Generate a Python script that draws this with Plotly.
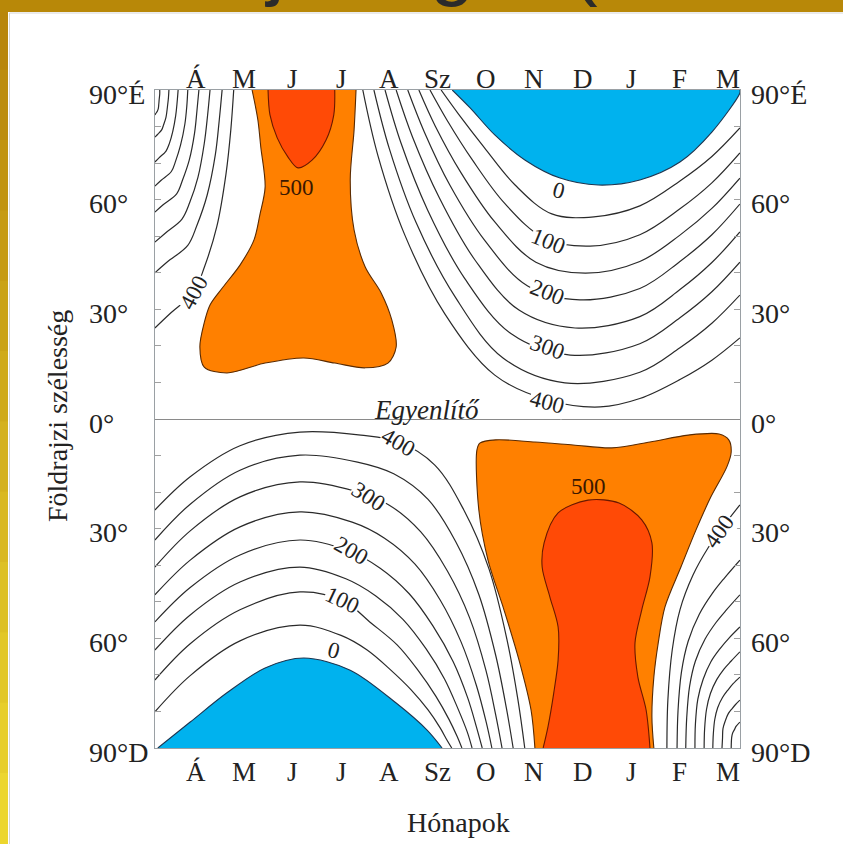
import plotly.graph_objects as go

# ---------------- data (months: Á=1 ... M=12, latitude in degrees) ----------------
MONTHS = ["Á", "M", "J", "J", "A", "Sz", "O", "N", "D", "J", "F", "M"]
MONTH_POS = [1, 2, 3, 4, 5, 6, 7, 8, 9, 10, 11, 12]
LAT_TICKS = [90, 60, 30, 0, -30, -60, -90]
LAT_TEXT = ["90°É", "60°", "30°", "0°", "30°", "60°", "90°D"]
LEVELS = [50, 100, 150, 200, 250, 300, 350, 400]

# Northern hemisphere, spring isolines (upper left corner)
NH_SPRING_X = [
    [0.15, 0.17, 0.20, 0.22, 0.23, 0.24, 0.25, 0.25],
    [0.15, 0.21, 0.29, 0.33, 0.38, 0.41, 0.43, 0.44],
    [0.15, 0.24, 0.38, 0.45, 0.52, 0.58, 0.61, 0.63],
    [0.15, 0.28, 0.49, 0.58, 0.68, 0.77, 0.81, 0.83],
    [0.15, 0.32, 0.60, 0.72, 0.86, 0.97, 1.02, 1.06],
    [0.15, 0.37, 0.71, 0.87, 1.04, 1.17, 1.24, 1.29],
    [0.15, 0.41, 0.83, 1.02, 1.23, 1.40, 1.48, 1.54],
    [0.15, 0.46, 0.95, 1.18, 1.43, 1.62, 1.72, 1.78],
]
NH_SPRING_LAT = [
    [83.2, 83.6, 84.2, 84.9, 86.1, 87.6, 88.9, 90],
    [77.1, 77.9, 79.1, 80.5, 82.6, 85.5, 87.9, 90],
    [70.3, 71.5, 73.3, 75.4, 78.7, 83.0, 86.7, 90],
    [63.7, 65.3, 67.7, 70.6, 74.9, 80.7, 85.6, 90],
    [56.6, 58.6, 61.6, 65.3, 70.8, 78.2, 84.4, 90],
    [48.4, 50.9, 54.7, 59.2, 66.1, 75.3, 83.1, 90],
    [40.0, 43.0, 47.5, 53.0, 61.2, 72.3, 81.6, 90],
    [24.9, 28.8, 34.7, 41.8, 52.6, 67.0, 79.1, 90],
]

# Northern hemisphere, autumn / winter isolines (right part)
NH_WINTER_X = [
    [6.07, 6.43, 6.96, 7.60, 8.36, 9.23, 10.18, 11.01, 11.67, 12.25],
    [5.84, 6.19, 6.72, 7.39, 8.20, 9.15, 10.18, 11.01, 11.67, 12.25],
    [5.61, 5.95, 6.48, 7.18, 8.03, 9.05, 10.18, 11.01, 11.67, 12.25],
    [5.38, 5.72, 6.25, 6.98, 7.86, 8.94, 10.18, 11.01, 11.67, 12.25],
    [5.14, 5.48, 6.03, 6.77, 7.68, 8.84, 10.18, 11.01, 11.67, 12.25],
    [4.91, 5.24, 5.79, 6.56, 7.52, 8.74, 10.18, 11.01, 11.67, 12.25],
    [4.68, 5.00, 5.55, 6.36, 7.35, 8.63, 10.18, 11.01, 11.67, 12.25],
    [4.45, 4.76, 5.32, 6.15, 7.18, 8.28, 9.36, 10.18, 11.01, 11.67, 12.25],
]
NH_WINTER_LAT = [
    [90, 83.4, 74.3, 64.0, 56.1, 55.3, 58.3, 65.1, 71.8, 79.6],
    [90, 81.8, 70.8, 58.9, 49.5, 47.3, 50.4, 57.5, 64.6, 72.8],
    [90, 80.1, 67.4, 53.9, 42.9, 39.9, 43.1, 50.3, 57.6, 65.9],
    [90, 78.6, 64.0, 48.7, 36.4, 32.6, 35.7, 43.1, 50.4, 58.8],
    [90, 77.1, 60.6, 43.5, 29.8, 24.9, 28.0, 35.4, 42.8, 51.2],
    [90, 75.5, 57.2, 38.4, 23.3, 17.5, 20.6, 27.7, 34.8, 42.9],
    [90, 73.9, 53.8, 33.4, 16.7, 9.9, 12.8, 19.5, 26.2, 33.9],
    [90, 72.2, 50.3, 28.7, 12.0, 5.2, 3.3, 5.6, 10.8, 16.1, 22.2],
]

# Southern hemisphere, winter arcs (lower left)
SH_WINTER_X = [
    [0.15, 0.88, 1.91, 3.15, 4.00, 4.54, 5.03, 5.45, 5.80, 6.05, 6.19, 6.29],
    [0.15, 0.88, 1.91, 3.15, 4.06, 4.62, 5.16, 5.59, 5.96, 6.23, 6.40, 6.50],
    [0.15, 0.88, 1.91, 3.15, 4.10, 4.72, 5.28, 5.76, 6.14, 6.42, 6.61, 6.71],
    [0.15, 0.88, 1.91, 3.15, 4.16, 4.81, 5.41, 5.90, 6.32, 6.62, 6.80, 6.92],
    [0.15, 0.88, 1.91, 3.15, 4.23, 4.90, 5.53, 6.05, 6.48, 6.80, 7.00, 7.12],
    [0.15, 0.88, 1.91, 3.15, 4.28, 4.99, 5.65, 6.20, 6.66, 7.00, 7.20, 7.33],
    [0.15, 0.88, 1.91, 3.15, 4.34, 5.09, 5.80, 6.37, 6.85, 7.20, 7.42, 7.56],
    [0.15, 0.88, 1.91, 3.15, 4.41, 5.20, 5.94, 6.54, 7.06, 7.43, 7.66, 7.80],
]
SH_WINTER_LAT = [
    [-80.1, -70.2, -60.7, -56.4, -59.2, -63.2, -68.7, -74.1, -79.6, -84.5, -87.8, -90],
    [-71.4, -61.5, -52.2, -47.3, -49.9, -55.8, -61.8, -68.7, -75.8, -82.1, -86.8, -90],
    [-63.2, -53.6, -44.6, -40.5, -43.7, -48.4, -54.8, -62.9, -71.1, -79.3, -85.6, -90],
    [-55.5, -46.1, -37.2, -33.1, -36.1, -40.8, -47.8, -56.6, -66.4, -76.3, -84.2, -90],
    [-48.1, -38.6, -29.5, -25.4, -28.2, -32.6, -39.7, -49.5, -60.9, -72.9, -82.8, -90],
    [-40.5, -30.6, -21.3, -17.2, -19.7, -23.5, -30.9, -41.6, -54.4, -68.9, -81.0, -90],
    [-33.1, -23.3, -14.0, -9.9, -11.8, -15.0, -22.0, -33.5, -48.0, -64.7, -79.1, -90],
    [-24.9, -15.8, -7.3, -3.6, -4.4, -6.3, -12.6, -24.9, -41.0, -60.2, -76.9, -90],
]

# Southern hemisphere, spring isolines (lower right corner)
SH_SPRING_X = [
    [12.07, 12.08, 12.10, 12.14, 12.17, 12.25],
    [11.88, 11.89, 11.90, 11.95, 12.01, 12.09, 12.16, 12.25],
    [11.69, 11.70, 11.73, 11.79, 11.89, 12.01, 12.11, 12.25],
    [11.51, 11.52, 11.56, 11.64, 11.77, 11.92, 12.07, 12.25],
    [11.32, 11.33, 11.38, 11.49, 11.65, 11.84, 12.02, 12.25],
    [11.13, 11.15, 11.21, 11.33, 11.53, 11.76, 11.98, 12.25],
    [10.95, 10.97, 11.04, 11.18, 11.41, 11.68, 11.93, 12.25],
    [10.74, 10.76, 10.85, 11.01, 11.28, 11.59, 11.88, 12.25],
]
SH_SPRING_LAT = [
    [-90, -87.1, -85.9, -84.9, -84.1, -82.9],
    [-90, -87.4, -84.7, -82.5, -80.6, -79.2, -78.1, -76.9],
    [-90, -86.2, -82.2, -79.0, -76.2, -74.0, -72.4, -70.6],
    [-90, -84.8, -79.4, -75.1, -71.3, -68.4, -66.2, -63.7],
    [-90, -83.4, -76.6, -71.2, -66.4, -62.8, -60.0, -56.9],
    [-90, -81.7, -73.1, -66.2, -60.2, -55.6, -52.1, -48.1],
    [-90, -79.8, -69.3, -60.8, -53.4, -47.7, -43.5, -38.6],
    [-90, -76.9, -63.2, -52.2, -42.7, -35.3, -29.8, -23.5],
]

# Shaded areas: polar night (0) and the 450 / 500 maxima
NIGHT_N_X = [6.30, 6.67, 7.18, 7.81, 8.53, 9.32, 10.18, 11.01, 11.67, 12.25, 12.25]
NIGHT_N_LAT = [90, 85.1, 77.7, 70.8, 65.9, 64.0, 65.4, 70.3, 78.5, 89.2, 90]
NIGHT_S_X = [0.21, 0.88, 1.64, 2.43, 3.23, 4.19, 5.14, 5.78, 6.09]
NIGHT_S_LAT = [-90, -82.9, -74.9, -68.1, -65.4, -68.7, -77.7, -85.1, -90]

HIGH_N_X = [2.16, 2.28, 2.34, 2.43, 2.32, 2.20, 1.91, 1.56, 1.29, 1.17, 1.08, 1.17, 1.64,
            2.43, 3.23, 3.87, 4.50, 4.97, 5.14, 5.05, 4.83, 4.50, 4.27, 4.19, 4.27, 4.31]
HIGH_N_LAT = [90, 81.8, 74.4, 63.5, 55.8, 49.0, 42.1, 36.1, 31.2, 26.3, 19.7, 14.2, 12.6,
              15.3, 16.7, 15.3, 14.0, 15.3, 19.7, 27.1, 34.5, 41.6, 51.7, 65.4, 79.1, 90]
PEAK_N_X = [2.49, 2.53, 2.68, 2.90, 3.11, 3.40, 3.69, 3.85, 3.87]
PEAK_N_LAT = [90, 83.2, 76.9, 71.7, 68.7, 70.8, 76.3, 83.2, 90]

HIGH_S_X = [8.01, 7.93, 7.68, 7.37, 7.04, 6.85, 6.81, 6.87, 7.20, 8.01, 8.80, 9.60, 10.39,
            11.18, 11.82, 12.02, 12.07, 11.98, 11.65, 11.34, 11.03, 10.70, 10.56, 10.47, 10.43, 10.47]
HIGH_S_LAT = [-90, -79.6, -65.9, -52.2, -38.6, -24.9, -8.5, -6.6, -5.7, -6.3, -7.1, -7.9, -6.3,
              -4.4, -4.1, -5.7, -9.0, -13.1, -21.3, -30.4, -40.5, -51.4, -61.3, -70.6, -81.5, -90]
PEAK_S_X = [8.18, 8.28, 8.40, 8.49, 8.49, 8.32, 8.16, 8.20, 8.49, 9.11, 9.75, 10.22, 10.43,
            10.39, 10.22, 10.08, 10.14, 10.31, 10.39]
PEAK_S_LAT = [-90, -84.2, -74.9, -65.9, -56.9, -48.7, -40.5, -33.9, -25.7, -22.2, -23.0, -27.6,
              -33.9, -43.2, -52.2, -61.3, -70.6, -79.6, -90]

# Isoline labels
LABEL_TEXT = ["0", "100", "200", "300", "400", "400", "500",
              "400", "300", "200", "100", "0", "500", "400"]
LABEL_X = [8.50, 8.30, 8.28, 8.28, 8.28, 0.96, 3.07,
           5.19, 4.56, 4.21, 4.04, 3.85, 9.11, 11.82]
LABEL_LAT = [62.6, 48.6, 34.6, 19.5, 4.6, 34.5, 63.4,
             -6.4, -21.3, -36.0, -49.6, -63.4, -18.6, -30.8]
LABEL_ANGLE = [15, 22, 22, 20, 15, -62, 0,
               30, 33, 30, 25, 15, 0, -55]
LABEL_MASK = [False, True, True, True, True, True, False,
              True, True, True, True, False, False, True]

# ---------------- styling ----------------
LINE_C = "#2a2a2a"
BLUE = "#00B2EE"
ORANGE = "#FF8000"
RED = "#FF4A06"
SERIF = "Liberation Serif"

fig = go.Figure()


def area(xs, ys, fill, edge):
    fig.add_trace(go.Scatter(x=xs, y=ys, mode="lines", fill="toself", fillcolor=fill,
                             line=dict(width=0, shape="spline", smoothing=0.9),
                             hoverinfo="skip", showlegend=False))
    fig.add_trace(go.Scatter(x=xs, y=ys, mode="lines",
                             line=dict(color=edge, width=1.1, shape="spline", smoothing=0.9),
                             hoverinfo="skip", showlegend=False))


def iso(xs, ys):
    fig.add_trace(go.Scatter(x=xs, y=ys, mode="lines",
                             line=dict(color=LINE_C, width=1.2, shape="spline", smoothing=1.0),
                             hoverinfo="skip", showlegend=False))


area(NIGHT_N_X, NIGHT_N_LAT, BLUE, "#1d3550")
area(NIGHT_S_X, NIGHT_S_LAT, BLUE, "#1d3550")
area(HIGH_N_X, HIGH_N_LAT, ORANGE, "#5a2a00")
area(PEAK_N_X, PEAK_N_LAT, RED, "#6a1800")
area(HIGH_S_X, HIGH_S_LAT, ORANGE, "#5a2a00")
area(PEAK_S_X, PEAK_S_LAT, RED, "#6a1800")

for group_x, group_y in [(NH_SPRING_X, NH_SPRING_LAT), (NH_WINTER_X, NH_WINTER_LAT),
                         (SH_WINTER_X, SH_WINTER_LAT), (SH_SPRING_X, SH_SPRING_LAT)]:
    for xs, ys in zip(group_x, group_y):
        iso(xs, ys)

annotations = []
for t, x, y, a, m in zip(LABEL_TEXT, LABEL_X, LABEL_LAT, LABEL_ANGLE, LABEL_MASK):
    dark = t == "500"
    annotations.append(dict(x=x, y=y, xref="x", yref="y", text=t, showarrow=False,
                            xanchor="center", yanchor="middle",
                            textangle=a, font=dict(family=SERIF, size=23,
                                                   color="#3a1800" if dark else "#222"),
                            bgcolor="white" if m else "rgba(0,0,0,0)", borderpad=0))

annotations.append(dict(x=5.78, y=2.6, xref="x", yref="y", text="<i>Egyenlítő</i>",
                        xanchor="center", yanchor="middle",
                        showarrow=False, font=dict(family=SERIF, size=27, color="#222")))

# latitude labels (left and right), left aligned
for lat, txt in zip(LAT_TICKS, LAT_TEXT):
    for px in (-0.1162, 1.0154):
        annotations.append(dict(x=px, y=lat, xref="paper", yref="y", text=txt, showarrow=False,
                                xanchor="left", yanchor="middle", yshift=-4,
                                font=dict(family=SERIF, size=28, color="#222")))

# month labels (top and bottom)
for m, pos in zip(MONTHS, MONTH_POS):
    for py in (1.0167, -0.0365):
        annotations.append(dict(x=pos, y=py, xref="x", yref="paper", text=m, showarrow=False,
                                xanchor="center", yanchor="middle",
                                font=dict(family=SERIF, size=27, color="#222")))

annotations.append(dict(x=0.518, y=-0.1125, xref="paper", yref="paper", text="Hónapok",
                        xanchor="center", yanchor="middle",
                        showarrow=False, font=dict(family=SERIF, size=28, color="#222")))
annotations.append(dict(x=-0.1658, y=0.5046, xref="paper", yref="paper",
                        text="Földrajzi szélesség", textangle=-90, showarrow=False,
                        xanchor="center", yanchor="middle",
                        font=dict(family=SERIF, size=28, color="#222")))

# fragments of the large title cut by the top of the slide
for ch, px in [("j", 0.2051), ("g", 0.5077), ("(", 0.735)]:
    annotations.append(dict(x=px, y=1.1231, xref="paper", yref="paper", text=ch,
                            showarrow=False, xanchor="center", yanchor="bottom",
                            font=dict(family="Liberation Sans", size=80, color="#2b2b2b")))

# gold slide frame (left strip with gradient, top strip)
shapes = []
gold_top = (184, 134, 11)
gold_bot = (236, 214, 46)
n = 12
y_top, y_bot = 1.1368, -0.1459
for i in range(n):
    f = i / (n - 1)
    c = tuple(int(gold_top[k] + (gold_bot[k] - gold_top[k]) * f) for k in range(3))
    y1 = y_top - (y_top - y_bot) * i / n
    y0 = y_top - (y_top - y_bot) * (i + 1) / n
    shapes.append(dict(type="rect", xref="paper", yref="paper", x0=-0.2650, x1=-0.2513,
                       y0=y0 - 0.001, y1=y1 + 0.001, line=dict(width=0),
                       fillcolor="rgb(%d,%d,%d)" % c, layer="below"))
shapes.append(dict(type="rect", xref="paper", yref="paper", x0=-0.2650, x1=1.18,
                   y0=1.1186, y1=1.1368, line=dict(width=0), fillcolor="rgb(184,136,8)",
                   layer="below"))
shapes.append(dict(type="line", xref="paper", yref="paper", x0=-0.2487, x1=-0.2487,
                   y0=-0.1459, y1=1.1170, line=dict(color="#d6d6d6", width=1)))
shapes.append(dict(type="line", xref="paper", yref="paper", x0=-0.2487, x1=1.18,
                   y0=1.1170, y1=1.1170, line=dict(color="#d6d6d6", width=1)))

fig.update_layout(
    width=843, height=844,
    margin=dict(l=155, r=103, t=90, b=96),
    paper_bgcolor="white", plot_bgcolor="white",
    font=dict(family=SERIF, color="#222"),
    showlegend=False,
    annotations=annotations,
    shapes=shapes,
    xaxis=dict(range=[0.152, 12.252], showgrid=False, zeroline=False, showline=True,
               linecolor="#9aa0a4", linewidth=1, mirror=True, ticks="",
               showticklabels=False, fixedrange=True),
    yaxis=dict(range=[-90, 90], showgrid=False, zeroline=True, zerolinecolor="#8a8a8a",
               zerolinewidth=1, showline=True, linecolor="#9aa0a4", linewidth=1,
               mirror="ticks", ticks="inside", ticklen=6, tickcolor="#a0a0a0",
               tickvals=[-80, -70, -60, -50, -40, -30, -20, -10, 10, 20, 30, 40, 50, 60, 70, 80],
               showticklabels=False, fixedrange=True),
)

fig.write_html("out.html", config={"displayModeBar": False},
               post_script="document.body.style.margin='0';document.body.style.overflow='hidden';")
